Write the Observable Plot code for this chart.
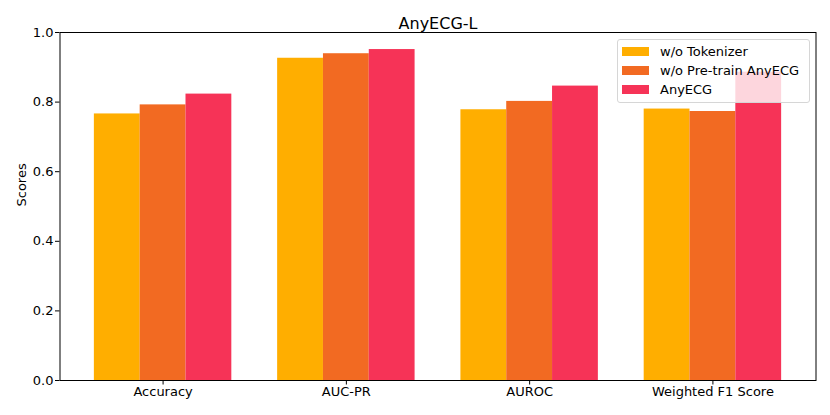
<!DOCTYPE html>
<html>
<head>
<meta charset="utf-8">
<script src="https://cdn.jsdelivr.net/npm/d3@7"></script>
<script src="https://cdn.jsdelivr.net/npm/@observablehq/plot@0.6"></script>
<style>
  html, body { margin: 0; padding: 0; background: #fff; }
  #wrap { position: relative; width: 830px; height: 415px; font-family: "DejaVu Sans", sans-serif; }
  #legend { position: absolute; left: 616.5px; top: 39px; width: 191px; height: 62px;
    border: 1px solid #d6d6d6; border-radius: 3px; background: rgba(255,255,255,0.8);
    font-size: 13px; color: #000; }
  .row { position: absolute; left: 4.5px; height: 19px; display: flex; align-items: center; }
  .sw { width: 27px; height: 9px; margin-right: 11px; }
</style>
</head>
<body>
<div id="wrap"></div>
<script>
// ---- data ----
const title = "AnyECG-L";
const metrics = ["Accuracy", "AUC-PR", "AUROC", "Weighted F1 Score"];
const series = ["w/o Tokenizer", "w/o Pre-train AnyECG", "AnyECG"];
const colors = ["#ffae00", "#f26a22", "#f63357"];
const woTokenizer = [0.766, 0.926, 0.778, 0.780];
const woPretrain = [0.792, 0.939, 0.802, 0.773];
const anyECG = [0.823, 0.951, 0.846, 0.886];
const yTicks = [0, 0.2, 0.4, 0.6, 0.8, 1.0];
const yLabel = "Scores";

const values = [woTokenizer, woPretrain, anyECG];
const rows = [];
metrics.forEach((m, i) => series.forEach((s, j) => rows.push({metric: m, series: s, value: values[j][i], key: m + "|" + s})));
// band domain: three bars per metric, with one empty band between groups
const domain = [];
metrics.forEach((m, i) => {
  series.forEach(s => domain.push(m + "|" + s));
  if (i < metrics.length - 1) domain.push("gap" + i);
});
const tickKeys = metrics.map(m => m + "|" + series[1]);

const font = "DejaVu Sans, sans-serif";
const chart = Plot.plot({
  width: 830,
  height: 415,
  marginLeft: 59.5,
  marginRight: 14.5,
  marginTop: 32,
  marginBottom: 35,
  style: {fontFamily: font, fontSize: "13px", color: "#000", background: "#fff", overflow: "visible"},
  x: {type: "band", domain, paddingInner: 0, paddingOuter: 0.75, round: false, axis: null},
  y: {domain: [0, 1], axis: null},
  color: {domain: series, range: colors},
  marks: [
    Plot.barY(rows, {x: "key", y: "value", fill: "series", inset: 0}),
    Plot.axisX({ticks: tickKeys, tickFormat: d => d.split("|")[0], tickSize: 4.5, tickPadding: 2.2, fontSize: 13, label: null, stroke: "#000"}),
    Plot.axisY({ticks: yTicks, tickFormat: d3.format(".1f"), tickSize: 4.5, tickPadding: 2, fontSize: 13, label: null, stroke: "#000"}),
    Plot.frame({stroke: "#000", strokeWidth: 1}),
    Plot.text([title], {frameAnchor: "top", lineAnchor: "bottom", dy: -4, fontSize: 16, fill: "#000"}),
    Plot.text([yLabel], {frameAnchor: "left", rotate: -90, dx: -38.5, fontSize: 13, fill: "#000"})
  ]
});
const wrap = document.getElementById("wrap");
wrap.appendChild(chart);

// legend (matplotlib-style, upper right, semi-transparent)
const legend = document.createElement("div");
legend.id = "legend";
series.forEach((s, j) => {
  const row = document.createElement("div");
  row.className = "row";
  row.style.top = (1.5 + j * 19.3) + "px";
  const sw = document.createElement("div");
  sw.className = "sw";
  sw.style.background = colors[j];
  const t = document.createElement("span");
  t.textContent = s;
  row.appendChild(sw);
  row.appendChild(t);
  legend.appendChild(row);
});
wrap.appendChild(legend);
</script>
</body>
</html>
